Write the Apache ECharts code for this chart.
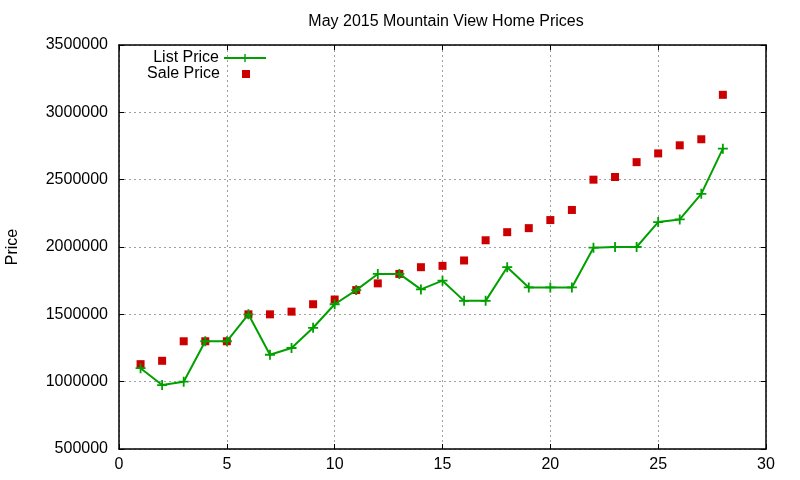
<!DOCTYPE html>
<html>
<head>
<meta charset="utf-8">
<script src="https://cdn.jsdelivr.net/npm/echarts@6/dist/echarts.min.js"></script>
<style>
html, body { margin: 0; padding: 0; background: #fff; }
#main { width: 800px; height: 480px; }
</style>
</head>
<body>
<div id="main"></div>
<script>
var days = [1, 2, 3, 4, 5, 6, 7, 8, 9, 10, 11, 12, 13, 14, 15, 16, 17, 18, 19, 20, 21, 22, 23, 24, 25, 26, 27, 28];
var listPrice = [1100000, 975000, 1000000, 1300000, 1300000, 1500000, 1200000, 1250000, 1400000, 1575000,
    1680000, 1800000, 1800000, 1685000, 1750000, 1600000, 1600000, 1850000, 1700000, 1700000,
    1700000, 1995000, 2000000, 2000000, 2185000, 2205000, 2395000, 2730000];
var salePrice = [1130000, 1155000, 1300000, 1300000, 1300000, 1500000, 1500000, 1520000, 1575000, 1610000,
    1680000, 1730000, 1800000, 1850000, 1860000, 1900000, 2050000, 2110000, 2140000, 2200000,
    2275000, 2500000, 2520000, 2630000, 2695000, 2755000, 2800000, 3130000];

var font = 'Liberation Sans, Arial, sans-serif';
var green = '#00a000';
var red = '#cc0000';
var plus = 'path://M4,0h1.8v4.1h4.1v1.8h-4.1v4.1h-1.8v-4.1h-4.1v-1.8h4.1z';

function pairs(xs, ys) {
    return xs.map(function (x, i) { return [x, ys[i]]; });
}

var tickCommon = { show: true, inside: true, length: 5, lineStyle: { color: '#000', width: 1 } };
var lineCommon = { show: true, onZero: false, lineStyle: { color: '#000', width: 1.5 } };

echarts.init(document.getElementById('main')).setOption({
    animation: false,
    textStyle: { fontFamily: font },
    title: {
        text: 'May 2015 Mountain View Home Prices',
        left: 441,
        textAlign: 'center',
        top: 9,
        textStyle: { fontFamily: font, fontSize: 16, fontWeight: 'normal', color: '#000' }
    },
    legend: [{
        data: ['List Price'],
        right: 533,
        top: 50,
        padding: 0,
        align: 'right',
        itemWidth: 42,
        itemHeight: 10,
        textStyle: { fontFamily: font, fontSize: 16, color: '#000' }
    }, {
        data: [{ name: 'Sale Price', icon: 'path://M0,0M42,10M17,1h8v8h-8z' }],
        right: 533,
        top: 66,
        padding: 0,
        align: 'right',
        itemWidth: 42,
        itemHeight: 10,
        textStyle: { fontFamily: font, fontSize: 16, color: '#000' }
    }],
    grid: { left: 119, right: 34, top: 45, bottom: 31, outerBoundsMode: 'none', containLabel: false },
    xAxis: [{
        type: 'value',
        min: 0, max: 30, interval: 5,
        axisLine: lineCommon,
        axisTick: tickCommon,
        axisLabel: { margin: 8, fontFamily: font, fontSize: 16, color: '#000' },
        splitLine: { show: true, lineStyle: { color: '#a0a0a0', type: [2, 3], width: 1 } }
    }, {
        type: 'value', position: 'top',
        min: 0, max: 30, interval: 5,
        axisLine: lineCommon,
        axisTick: tickCommon,
        axisLabel: { show: false },
        splitLine: { show: false }
    }],
    yAxis: [{
        type: 'value',
        min: 500000, max: 3500000, interval: 500000,
        name: 'Price',
        nameLocation: 'middle',
        nameGap: 98,
        nameTextStyle: { fontFamily: font, fontSize: 16, color: '#000' },
        axisLine: lineCommon,
        axisTick: tickCommon,
        axisLabel: {
            margin: 11, fontFamily: font, fontSize: 16, color: '#000',
            formatter: function (v) { return String(v); }
        },
        splitLine: { show: true, lineStyle: { color: '#a0a0a0', type: [2, 3], width: 1 } }
    }, {
        type: 'value', position: 'right',
        min: 500000, max: 3500000, interval: 500000,
        axisLine: lineCommon,
        axisTick: tickCommon,
        axisLabel: { show: false },
        splitLine: { show: false }
    }],
    series: [{
        name: 'List Price',
        type: 'line',
        data: pairs(days, listPrice),
        symbol: plus,
        symbolSize: 10,
        showAllSymbol: true,
        itemStyle: { color: green },
        lineStyle: { color: green, width: 2 },
        emphasis: { disabled: true }
    }, {
        name: 'Sale Price',
        type: 'scatter',
        data: pairs(days, salePrice),
        symbol: 'rect',
        symbolSize: 8,
        itemStyle: { color: red, opacity: 1 },
        emphasis: { disabled: true }
    }]
});
</script>
</body>
</html>
